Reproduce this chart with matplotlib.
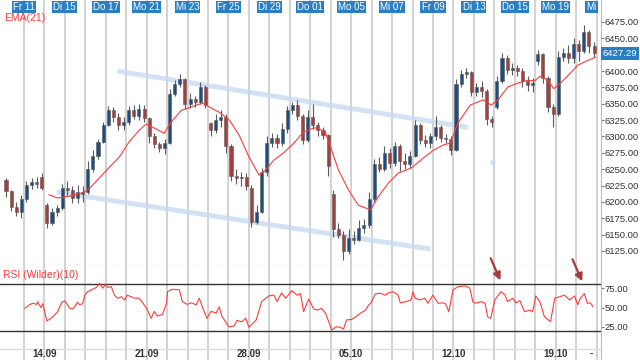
import matplotlib
matplotlib.use('Agg')
import matplotlib.pyplot as plt
import numpy as np
from matplotlib.patches import Rectangle

plt.rcParams['font.family'] = ['Liberation Sans', 'DejaVu Sans']

# ---------------- data (x = bar index, 4 bars per trading day) ----------------
bars_per_day = 4
opens = [6233, 6216, 6192, 6185, 6205, 6226, 6230, 6238, 6195, 6168, 6184, 6190, 6222, 6218, 6206, 6215,
         6215, 6250, 6270, 6292, 6318, 6340, 6330, 6318, 6322, 6340, 6332, 6342, 6328, 6300, 6288, 6282,
         6290, 6365, 6380, 6388, 6350, 6358, 6352, 6375, 6320, 6310, 6325, 6330, 6285, 6240, 6236, 6238,
         6222, 6170, 6185, 6245, 6290, 6298, 6290, 6312, 6340, 6348, 6332, 6295, 6330, 6318, 6310, 6302,
         6212, 6158, 6150, 6125, 6145, 6142, 6160, 6165, 6205, 6258, 6250, 6275, 6260, 6285, 6262, 6258,
         6270, 6318, 6295, 6290, 6300, 6315, 6298, 6296, 6280, 6380, 6396, 6398, 6368, 6375, 6370, 6326,
         6345, 6385, 6420, 6402, 6405, 6400, 6385, 6378, 6415, 6426, 6390, 6345, 6335, 6422, 6428, 6420,
         6442, 6430, 6460, 6438]
highs = [6236, 6218, 6200, 6210, 6232, 6236, 6238, 6244, 6198, 6190, 6195, 6228, 6232, 6225, 6226, 6225,
         6262, 6280, 6296, 6322, 6346, 6345, 6336, 6330, 6346, 6348, 6350, 6348, 6330, 6305, 6292, 6296,
         6372, 6386, 6396, 6390, 6366, 6362, 6384, 6378, 6322, 6335, 6340, 6335, 6288, 6250, 6246, 6244,
         6226, 6196, 6252, 6300, 6305, 6304, 6320, 6346, 6352, 6356, 6335, 6340, 6350, 6322, 6314, 6304,
         6218, 6168, 6155, 6158, 6155, 6172, 6174, 6215, 6265, 6268, 6285, 6282, 6292, 6288, 6275, 6278,
         6325, 6320, 6302, 6306, 6332, 6318, 6304, 6300, 6388, 6402, 6404, 6400, 6382, 6385, 6372, 6332,
         6392, 6428, 6424, 6412, 6410, 6405, 6392, 6390, 6432, 6428, 6392, 6350, 6430, 6436, 6440, 6450,
         6448, 6470, 6462, 6445]
lows = [6208, 6186, 6178, 6176, 6200, 6220, 6222, 6218, 6160, 6165, 6178, 6188, 6210, 6198, 6198, 6200,
        6212, 6246, 6265, 6290, 6316, 6322, 6310, 6310, 6318, 6326, 6325, 6322, 6290, 6282, 6276, 6274,
        6288, 6362, 6376, 6342, 6344, 6345, 6350, 6344, 6300, 6305, 6315, 6275, 6232, 6228, 6224, 6218,
        6162, 6166, 6183, 6240, 6284, 6282, 6286, 6305, 6334, 6325, 6288, 6292, 6312, 6300, 6296, 6240,
        6146, 6145, 6111, 6120, 6135, 6140, 6152, 6160, 6200, 6245, 6248, 6252, 6255, 6248, 6250, 6252,
        6268, 6288, 6284, 6282, 6295, 6292, 6290, 6272, 6278, 6376, 6390, 6362, 6362, 6360, 6318, 6315,
        6342, 6382, 6396, 6394, 6392, 6376, 6370, 6368, 6410, 6382, 6338, 6315, 6332, 6416, 6412, 6412,
        6415, 6428, 6428, 6422]
closes = [6216, 6192, 6185, 6205, 6226, 6230, 6228, 6222, 6168, 6184, 6190, 6222, 6218, 6206, 6215, 6212,
          6250, 6270, 6292, 6318, 6340, 6330, 6318, 6322, 6340, 6332, 6342, 6328, 6300, 6288, 6282, 6290,
          6365, 6380, 6388, 6350, 6358, 6352, 6375, 6348, 6310, 6325, 6330, 6285, 6240, 6236, 6238, 6225,
          6170, 6185, 6245, 6290, 6298, 6290, 6312, 6340, 6348, 6332, 6295, 6330, 6318, 6310, 6302, 6255,
          6158, 6150, 6125, 6145, 6142, 6160, 6165, 6205, 6258, 6250, 6275, 6260, 6285, 6262, 6258, 6270,
          6318, 6295, 6290, 6300, 6315, 6298, 6296, 6280, 6380, 6396, 6398, 6368, 6375, 6370, 6326, 6322,
          6385, 6420, 6402, 6405, 6400, 6385, 6378, 6382, 6426, 6390, 6345, 6335, 6422, 6428, 6420, 6442,
          6430, 6460, 6438, 6427.29]

ema_x = [8.4, 10.1, 12.5, 15.0, 16.4, 18.3, 20.2, 22.2, 24.1, 26.1, 27.4, 29.0, 30.9, 32.3, 34.3, 36.2,
         38.4, 39.8, 41.7, 43.7, 45.6, 47.5, 49.5, 50.8, 52.4, 54.3, 56.3, 58.2, 60.2, 61.1, 62.5, 63.7,
         65.0, 67.0, 68.9, 71.3, 72.8, 74.8, 76.7, 79.3, 81.6, 83.6, 85.5, 86.9, 88.4, 90.8, 93.3, 94.9,
         96.2, 98.2, 100.2, 102.1, 103.4, 104.4, 106.0, 107.1, 108.5, 110.4, 111.8, 113.7, 115.3]
ema_v = [6211, 6206, 6209, 6214, 6221, 6237, 6253, 6269, 6292, 6310, 6319, 6313, 6305, 6322, 6340, 6345,
         6351, 6345, 6337, 6325, 6302, 6269, 6241, 6249, 6264, 6275, 6290, 6307, 6313, 6313, 6305, 6279,
         6249, 6218, 6195, 6188, 6208, 6229, 6244, 6252, 6267, 6279, 6287, 6290, 6321, 6348, 6356, 6348,
         6356, 6376, 6382, 6386, 6385, 6392, 6386, 6373, 6382, 6397, 6409, 6416, 6421]

rsi_x = [3.7, 4.7, 5.3, 6.0, 6.2, 6.8, 7.2, 8.0, 9.2, 10.1, 10.9, 11.5, 12.5, 13.1, 14.0, 14.4, 15.0, 15.4,
         16.0, 16.9, 17.7, 18.3, 18.9, 19.5, 19.9, 20.6, 21.2, 21.8, 22.6, 23.2, 23.7, 24.5, 25.1, 26.1,
         27.5, 28.4, 29.0, 29.6, 30.6, 31.4, 31.6, 32.5, 33.9, 34.5, 35.4, 36.2, 37.2, 37.8, 38.4, 39.3,
         40.1, 41.1, 41.7, 42.2, 43.6, 44.6, 45.2, 46.1, 46.9, 47.5, 48.9, 50.0, 51.4, 52.4, 53.0, 53.9,
         54.7, 55.9, 56.9, 57.6, 58.2, 59.2, 60.2, 60.9, 61.7, 62.5, 63.7, 64.6, 65.4, 66.0, 66.6, 67.6,
         68.4, 69.3, 70.3, 70.9, 71.4, 72.2, 73.2, 74.2, 74.8, 75.7, 76.7, 77.1, 78.2, 79.2, 79.6, 80.0,
         81.0, 81.9, 82.5, 83.5, 84.5, 85.5, 86.0, 86.6, 87.4, 88.4, 89.8, 90.7, 91.3, 91.9, 92.9, 93.7,
         94.2, 94.8, 95.6, 96.8, 97.6, 98.1, 99.1, 99.7, 100.5, 101.4, 102.4, 103.0, 103.6, 104.4, 105.3,
         106.5, 107.3, 108.3, 109.2, 110.2, 111.2, 111.8, 112.3, 113.1, 113.7, 114.3, 114.8]
rsi_v = [49, 54, 55.5, 54, 57.6, 50, 55, 32.6, 38, 44.6, 56.8, 58.6, 49, 48, 56.8, 53.6, 55, 66,
         70.5, 73.6, 76, 81.3, 75, 80, 76, 77, 66, 62, 64, 59.8, 66, 64, 62, 62,
         49, 36, 45, 39, 41, 55.5, 70.5, 73.6, 72.8, 57.6, 54, 56, 53.6, 62, 51, 36,
         45, 43, 51, 39, 25, 26, 33.5, 31.4, 36, 24.5, 33.5, 57.6, 65, 66, 57.6, 69,
         62, 71.8, 66, 68, 44.6, 61, 48, 46.6, 49, 42.5, 21, 25, 24.5, 22, 34, 34.5,
         38, 42.5, 46.6, 53, 56, 67.5, 68.5, 66, 69, 70.5, 66, 56, 57.6, 59.8, 70.5, 62,
         59.8, 62, 55.5, 66, 55.5, 56, 54.5, 44.6, 72.7, 77, 78, 75, 57.6, 55.5, 57.6, 55.5,
         38, 36, 59.8, 70.5, 66, 57.6, 62, 56, 59, 44.6, 46.6, 44.6, 65, 57.6, 38,
         31.7, 62, 64, 66, 59.8, 65, 53.6, 62, 68, 55.5, 56, 51]

channel_upper_x = [21.8, 90.4]
channel_upper_y = [6400, 6314]
channel_lower_x = [9.9, 83.0]
channel_lower_y = [6215, 6128]
channel_stub_x = [94.8, 95.6]
channel_stub_y = [6262, 6258]

top_labels = ["Fr 11", "Di 15", "Do 17", "Mo 21", "Mi 23", "Fr 25", "Di 29", "Do 01",
              "Mo 05", "Mi 07", "Fr 09", "Di 13", "Do 15", "Mo 19", "Mi"]
top_label_days = [1, 3, 5, 7, 9, 11, 13, 15, 17, 19, 21, 23, 25, 27, 29]
bottom_labels = ["14.09", "21.09", "28.09", "05.10", "12.10", "19.10"]
bottom_label_days = [2, 7, 12, 17, 22, 27]
n_days = 29
price_ticks = list(range(6125, 6476, 25))
rsi_ticks = [25, 50, 75]
rsi_bands = [20, 80]
last_price = 6427.29

# ---------------- styling ----------------
BLUE_LBL = '#2a7fc4'
UP = '#1c4f80'
DOWN = '#a3403f'
WICK = '#5a5a5a'
GRID = '#cfcfcf'
RED = '#ff3a3a'
ARROW = '#a63b3d'

fig = plt.figure(figsize=(6.4, 3.6), dpi=100)
W, H = 640.0, 360.0
right_px = 601
ax = fig.add_axes([0, 95 / H, right_px / W, 265 / H])
ax2 = fig.add_axes([0, 0, right_px / W, 95 / H])

x0 = -0.5  # start of day 0 in bar-index units
xlim = (-1.17, 116.36)
for a in (ax, ax2):
    a.set_xlim(*xlim)
    a.set_xticks([])
    for s in ('top', 'left'):
        a.spines[s].set_visible(False)
    a.spines['right'].set_color('#bbbbbb')
    a.spines['bottom'].set_color('#bbbbbb')
    for k in range(1, n_days + 1):
        a.axvline(x0 + k * bars_per_day, color=GRID, lw=1.3, zorder=0)
ax2.spines['bottom'].set_visible(False)

ax.set_ylim(6103.6, 6508.6)
ax2.set_ylim(-17.9, 105.0)

# channel lines
for cx, cy in ((channel_upper_x, channel_upper_y), (channel_lower_x, channel_lower_y),
               (channel_stub_x, channel_stub_y)):
    ax.plot(cx, cy, color='#c9daf2', lw=3.5, alpha=0.8, solid_capstyle='butt', zorder=1)

# candles
bw = 0.6
for i, (o, h, l, c) in enumerate(zip(opens, highs, lows, closes)):
    col = UP if c >= o else DOWN
    ax.vlines(i, l, h, color=WICK, lw=0.8, zorder=2)
    ax.add_patch(Rectangle((i - bw / 2, min(o, c)), bw, max(abs(c - o), 1.0),
                           facecolor=col, edgecolor=WICK, lw=0.4, zorder=3))

ax.plot(ema_x, ema_v, color=RED, lw=0.8, zorder=4)

# right axis
for a, ticks in ((ax, price_ticks), (ax2, rsi_ticks)):
    a.yaxis.tick_right()
    a.set_yticks(ticks)
    labels = []
    for t in ticks:
        hidden = (a is ax) and abs(t - last_price) < 10
        labels.append('' if hidden else f"{t:.2f}")
    a.set_yticklabels(labels)
    a.tick_params(axis='y', length=2, width=0.8, color='#777777', labelsize=6.8,
                  labelcolor='#333333', pad=0.8)

ax.annotate(f"{last_price:.2f}", xy=(1.0, last_price), xycoords=('axes fraction', 'data'),
            xytext=(1.3, 0), textcoords='offset points', ha='left', va='center',
            fontsize=6.8, color='white', zorder=10,
            bbox=dict(boxstyle='square,pad=0.2', fc=BLUE_LBL, ec='none'), annotation_clip=False)

# top day labels
for lbl, d in zip(top_labels, top_label_days):
    xx = x0 + d * bars_per_day
    ha = 'center' if d < n_days else 'right'
    ax.annotate(lbl, xy=(xx, 1.0), xycoords=('data', 'axes fraction'), xytext=(0, -1.2),
                textcoords='offset points', ha=ha, va='top', fontsize=7, color='white', zorder=10,
                bbox=dict(boxstyle='square,pad=0.12', fc=BLUE_LBL, ec='none'))

ax.text(4 / right_px, 1 - 18 / 265, "EMA(21)", transform=ax.transAxes, ha='left', va='center',
        fontsize=7.5, color=RED)

# RSI panel
for b in rsi_bands:
    ax2.axhline(b, color='#333333', lw=1.0, zorder=2)
ax2.axhline(-3.6, color='#dddddd', lw=1.0, zorder=1)
ax2.plot(rsi_x, rsi_v, color=RED, lw=0.8, zorder=3)
ax2.text(3 / right_px, 1 - 10 / 95, "RSI (Wilder)(10)", transform=ax2.transAxes, ha='left',
         va='center', fontsize=7.5, color=RED)

for lbl, d in zip(bottom_labels, bottom_label_days):
    ax2.text(x0 + d * bars_per_day, 6 / 95, lbl, transform=ax2.get_xaxis_transform(),
             ha='center', va='center', fontsize=7, color='#333333', fontweight='bold')
ax2.text(114.5, 6 / 95, "-", transform=ax2.get_xaxis_transform(), ha='center', va='center',
         fontsize=7, color='#333333', fontweight='bold')

# arrows marking RSI peaks
for tip_x, tip_y in ((96.9, 81.8), (112.9, 80.5)):
    ax2.annotate('', xy=(tip_x, tip_y), xytext=(-8.6, 19.6), textcoords='offset points',
                 arrowprops=dict(arrowstyle='-|>', color=ARROW, lw=1.6, mutation_scale=11),
                 annotation_clip=False, zorder=12)

fig.savefig('out.png', dpi=100)
